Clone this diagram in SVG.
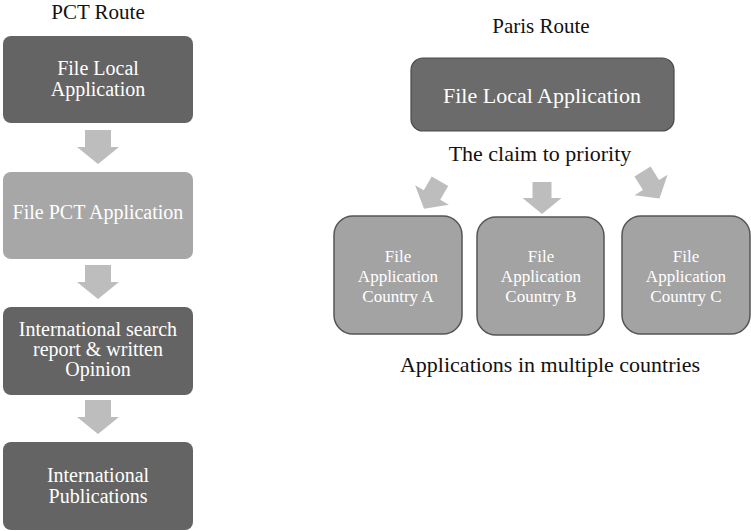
<svg xmlns="http://www.w3.org/2000/svg" width="751" height="531" viewBox="0 0 751 531">
<style>
text{font-family:"Liberation Serif","Times New Roman",serif;text-anchor:middle}
.title{font-size:21px;fill:#111}
.cap{font-size:22px;fill:#111}
.wt{fill:#fff;font-size:20px}
.ct{fill:#fff;font-size:17px}
.dark{fill:#646464}
.light{fill:#a7a7a7}
.pbox{fill:#6b6b6b;stroke:#4a4a4a;stroke-width:1.2}
.cbox{fill:#a3a3a3;stroke:#555;stroke-width:1.5}
.arr{fill:#bdbdbd}
</style>
<defs>
<path id="arrL" d="M-13,-17 L13,-17 L13,0 L21,0 L0,17 L-21,0 L-13,0 Z"/>
<path id="arrS" d="M-9.5,-16 L9.5,-16 L9.5,0 L19.5,0 L0,16 L-19.5,0 L-9.5,0 Z"/>
</defs>
<text class="title" x="98" y="19">PCT Route</text>
<text class="title" x="541" y="33">Paris Route</text>
<g id="pct1"><rect class="dark" x="3" y="36" width="190" height="87" rx="8"/><text class="wt" x="98" y="75">File Local</text><text class="wt" x="98" y="96">Application</text></g>
<g id="pct2"><rect class="light" x="3" y="172" width="190" height="87" rx="8"/><text class="wt" x="98" y="219">File PCT Application</text></g>
<g id="pct3"><rect class="dark" x="3" y="307" width="190" height="88" rx="8"/><text class="wt" x="98" y="336">International search</text><text class="wt" x="98" y="356">report &amp; written</text><text class="wt" x="98" y="376">Opinion</text></g>
<g id="pct4"><rect class="dark" x="3" y="442" width="190" height="88" rx="8"/><text class="wt" x="98" y="482">International</text><text class="wt" x="98" y="503">Publications</text></g>
<g id="paris"><rect class="pbox" x="411" y="58" width="263" height="73" rx="12"/><text x="542" y="103" style="font-size:22px;fill:#fff">File Local Application</text></g>
<text class="cap" x="540" y="161">The claim to priority</text>
<g id="countryA"><rect class="cbox" x="334" y="216" width="128" height="118" rx="19"/><text class="ct" x="398" y="262">File</text><text class="ct" x="398" y="282">Application</text><text class="ct" x="398" y="302">Country A</text></g>
<g id="countryB"><rect class="cbox" x="477" y="217" width="127" height="118" rx="19"/><text class="ct" x="541" y="262">File</text><text class="ct" x="541" y="282">Application</text><text class="ct" x="541" y="302">Country B</text></g>
<g id="countryC"><rect class="cbox" x="622" y="216" width="128" height="118" rx="19"/><text class="ct" x="686" y="262">File</text><text class="ct" x="686" y="282">Application</text><text class="ct" x="686" y="302">Country C</text></g>
<text class="cap" x="550" y="372">Applications in multiple countries</text>
<g id="connectors">
<use href="#arrL" class="arr" transform="translate(98,147)"/>
<use href="#arrL" class="arr" transform="translate(98,282)"/>
<use href="#arrL" class="arr" transform="translate(98,417)"/>
<use href="#arrS" class="arr" transform="translate(432,195) rotate(30)"/>
<use href="#arrS" class="arr" transform="translate(542,198)"/>
<use href="#arrS" class="arr" transform="translate(651,185) rotate(-32)"/>
</g>
</svg>
